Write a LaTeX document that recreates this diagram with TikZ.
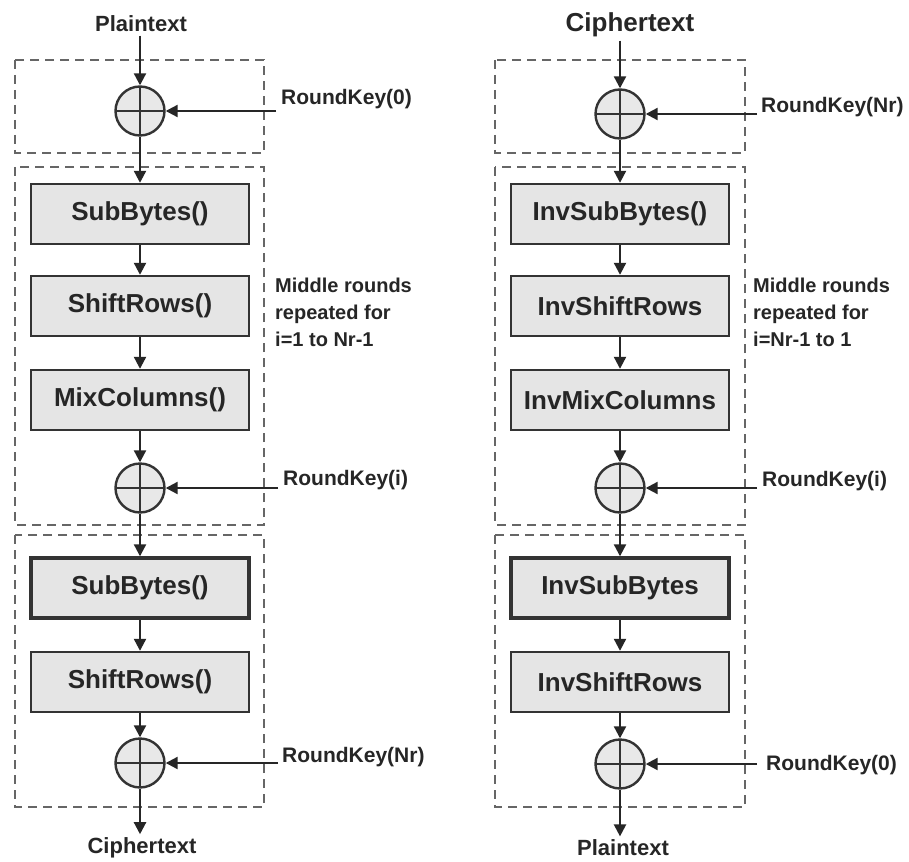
\documentclass[tikz,border=0pt]{standalone}
\usepackage{fontspec}
\setmainfont{Liberation Sans}
\usetikzlibrary{arrows.meta}
\begin{document}
\begin{tikzpicture}[x=1pt,y=-1pt,
  every node/.style={text=black!85},
  stage/.style={draw=black!80, line width=2.4pt, fill=black!10,
    minimum width=218pt, minimum height=60pt, inner sep=0pt,
    font=\fontsize{26}{28}\selectfont\bfseries},
  heavy/.style={line width=3.4pt},
  xorop/.style={circle, draw=black!80, line width=2.4pt, fill=black!9,
    minimum size=49pt, inner sep=0pt,
    path picture={\draw[line width=2.2pt, black!80]
      (path picture bounding box.north) -- (path picture bounding box.south)
      (path picture bounding box.west) -- (path picture bounding box.east);}},
  arr/.style={-{Triangle[length=12pt,width=12pt]}, line width=2.2pt, draw=black!85},
  frame/.style={draw=black!60, line width=2pt, dash pattern=on 9pt off 6pt},
  iolabel/.style={font=\fontsize{22}{24}\selectfont\bfseries},
  keylabel/.style={font=\fontsize{21}{24}\selectfont\bfseries, anchor=west, inner sep=0pt},
  note/.style={font=\fontsize{20}{27}\selectfont\bfseries, align=left, anchor=north west, inner sep=0pt}
]
\useasboundingbox (0,0) rectangle (909,861);
\fill[white] (0,0) rectangle (909,861);

% ---------------- encryption ----------------
\draw[frame] (15,60) rectangle (264,153);
\draw[frame] (15,167) rectangle (264,525);
\draw[frame] (15,535) rectangle (264,807);

\node[iolabel] (lin) at (141,24) {Plaintext};
\node[xorop] (lx0) at (140,111) {};
\node[stage] (ls1) at (140,214) {SubBytes()};
\node[stage] (ls2) at (140,306) {ShiftRows()};
\node[stage] (ls3) at (140,400) {MixColumns()};
\node[xorop] (lx1) at (140,488) {};
\node[stage, heavy] (ls4) at (140,588) {SubBytes()};
\node[stage] (ls5) at (140,682) {ShiftRows()};
\node[xorop] (lx2) at (140,763) {};
\node[iolabel] (lout) at (142,848) {Ciphertext};

\draw[arr] (lin.south -| lx0.north) -- (lx0.north);
\draw[arr] (lx0.south) -- (ls1.north);
\draw[arr] (ls1.south) -- (ls2.north);
\draw[arr] (ls2.south) -- (ls3.north);
\draw[arr] (ls3.south) -- (lx1.north);
\draw[arr] (lx1.south) -- (ls4.north);
\draw[arr] (ls4.south) -- (ls5.north);
\draw[arr] (ls5.south) -- (lx2.north);
\draw[arr] (lx2.south) -- (lx2.south |- lout.north);

\coordinate (lk0) at (276,111);
\coordinate (lk1) at (278,488);
\coordinate (lk2) at (278,763);
\node[keylabel] (lk0t) at (281,99) {RoundKey(0)};
\node[keylabel] (lk1t) at (283,480) {RoundKey(i)};
\node[keylabel] (lk2t) at (282,757) {RoundKey(Nr)};
\draw[arr] (lk0) -- (lx0.east);
\draw[arr] (lk1) -- (lx1.east);
\draw[arr] (lk2) -- (lx2.east);

\node[note] (lnote) at (275,278) {Middle rounds\\repeated for\\i=1 to Nr-1};

% ---------------- decryption ----------------
\draw[frame] (495,60) rectangle (745,153);
\draw[frame] (495,167) rectangle (745,525);
\draw[frame] (495,535) rectangle (745,807);

\node[font=\fontsize{26}{28}\selectfont\bfseries] (rin) at (630,25) {Ciphertext};
\node[xorop] (rx0) at (620,114) {};
\node[stage] (rs1) at (620,214) {InvSubBytes()};
\node[stage] (rs2) at (620,306) {InvShiftRows};
\node[stage] (rs3) at (620,400) {InvMixColumns};
\node[xorop] (rx1) at (620,488) {};
\node[stage, heavy] (rs4) at (620,588) {InvSubBytes};
\node[stage] (rs5) at (620,682) {InvShiftRows};
\node[xorop] (rx2) at (620,764) {};
\node[iolabel] (rout) at (623,848) {Plaintext};

\draw[arr] (rin.south -| rx0.north) -- (rx0.north);
\draw[arr] (rx0.south) -- (rs1.north);
\draw[arr] (rs1.south) -- (rs2.north);
\draw[arr] (rs2.south) -- (rs3.north);
\draw[arr] (rs3.south) -- (rx1.north);
\draw[arr] (rx1.south) -- (rs4.north);
\draw[arr] (rs4.south) -- (rs5.north);
\draw[arr] (rs5.south) -- (rx2.north);
\draw[arr] (rx2.south) -- (rx2.south |- rout.north);

\coordinate (rk0) at (757,114);
\coordinate (rk1) at (757,488);
\coordinate (rk2) at (757,764);
\node[keylabel] (rk0t) at (761,107) {RoundKey(Nr)};
\node[keylabel] (rk1t) at (762,481) {RoundKey(i)};
\node[keylabel] (rk2t) at (766,765) {RoundKey(0)};
\draw[arr] (rk0) -- (rx0.east);
\draw[arr] (rk1) -- (rx1.east);
\draw[arr] (rk2) -- (rx2.east);

\node[note] (rnote) at (753,278) {Middle rounds\\repeated for\\i=Nr-1 to 1};
\end{tikzpicture}
\end{document}
